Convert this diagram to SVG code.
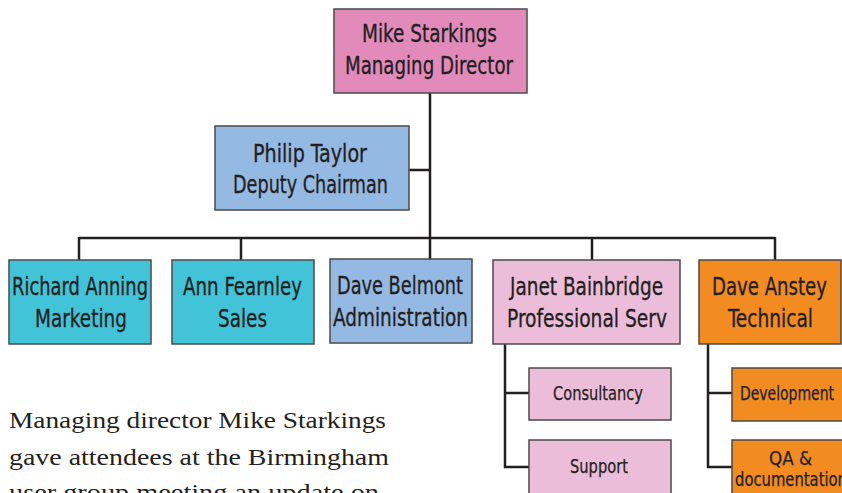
<svg xmlns="http://www.w3.org/2000/svg" width="842" height="493" viewBox="0 0 842 493">
<style>
.box{stroke:#4a4a4a;stroke-width:1.5}
.t{font-family:"DejaVu Sans Condensed","Liberation Sans",sans-serif;font-size:24px;fill:#231f20;stroke:#231f20;stroke-width:0.3}
.s{font-family:"DejaVu Sans Condensed","Liberation Sans",sans-serif;font-size:19px;fill:#231f20;stroke:#231f20;stroke-width:0.25}
.p{font-family:"Liberation Serif",serif;font-size:24px;fill:#231f20}
.c{fill:none;stroke:#231f20;stroke-width:2.5}
</style>
<rect width="842" height="493" fill="#ffffff"/>
<g id="connectors">
<path class="c" d="M430 93V238M409 170H430M79 238H775M79 237V260M241 237V260M430 237V259M592 237V260M775 237V260"/>
<path class="c" d="M505 344V467H529M505 393H529M708 344V467H732M708 393H732"/>
</g>
<g id="mike"><rect class="box" x="334" y="9" width="193" height="84" fill="#e28bbb"/>
<text class="t" x="362" y="42" textLength="135" lengthAdjust="spacingAndGlyphs">Mike Starkings</text>
<text class="t" x="345" y="74" textLength="168" lengthAdjust="spacingAndGlyphs">Managing Director</text></g>
<g id="philip"><rect class="box" x="215" y="126" width="194" height="84" fill="#94b9e3"/>
<text class="t" x="253" y="162" textLength="114" lengthAdjust="spacingAndGlyphs">Philip Taylor</text>
<text class="t" x="233" y="193" textLength="155" lengthAdjust="spacingAndGlyphs">Deputy Chairman</text></g>
<g id="richard"><rect class="box" x="9" y="260" width="142" height="84" fill="#42c4d8"/>
<text class="t" x="12" y="295" textLength="136" lengthAdjust="spacingAndGlyphs">Richard Anning</text>
<text class="t" x="35" y="327" textLength="92" lengthAdjust="spacingAndGlyphs">Marketing</text></g>
<g id="ann"><rect class="box" x="172" y="260" width="142" height="84" fill="#42c4d8"/>
<text class="t" x="183" y="295" textLength="119" lengthAdjust="spacingAndGlyphs">Ann Fearnley</text>
<text class="t" x="218" y="327" textLength="49" lengthAdjust="spacingAndGlyphs">Sales</text></g>
<g id="dave-belmont"><rect class="box" x="330" y="259" width="142" height="84" fill="#94b9e3"/>
<text class="t" x="337" y="294" textLength="126" lengthAdjust="spacingAndGlyphs">Dave Belmont</text>
<text class="t" x="333" y="326" textLength="135" lengthAdjust="spacingAndGlyphs">Administration</text></g>
<g id="janet"><rect class="box" x="493" y="260" width="187" height="84" fill="#ecbdd9"/>
<text class="t" x="510" y="295" textLength="153" lengthAdjust="spacingAndGlyphs">Janet Bainbridge</text>
<text class="t" x="507" y="327" textLength="160" lengthAdjust="spacingAndGlyphs">Professional Serv</text></g>
<g id="dave-anstey"><rect class="box" x="699" y="260" width="142" height="84" fill="#f28c20"/>
<text class="t" x="712" y="295" textLength="115" lengthAdjust="spacingAndGlyphs">Dave Anstey</text>
<text class="t" x="728" y="327" textLength="85" lengthAdjust="spacingAndGlyphs">Technical</text></g>
<g id="consultancy"><rect class="box" x="529" y="368" width="142" height="52" fill="#ecbdd9"/>
<text class="s" x="553" y="400" textLength="90" lengthAdjust="spacingAndGlyphs">Consultancy</text></g>
<g id="support"><rect class="box" x="529" y="440" width="142" height="60" fill="#ecbdd9"/>
<text class="s" x="570" y="473" textLength="58" lengthAdjust="spacingAndGlyphs">Support</text></g>
<g id="development"><rect class="box" x="732" y="368" width="120" height="53" fill="#f28c20"/>
<text class="s" x="740" y="400" textLength="94" lengthAdjust="spacingAndGlyphs">Development</text></g>
<g id="qa"><rect class="box" x="732" y="440" width="120" height="60" fill="#f28c20"/>
<text class="s" x="769" y="465" textLength="43" lengthAdjust="spacingAndGlyphs">QA &amp;</text>
<text class="s" x="735" y="486" textLength="112" lengthAdjust="spacingAndGlyphs">documentation</text></g>
<g id="caption">
<text class="p" x="9" y="428" textLength="377" lengthAdjust="spacingAndGlyphs">Managing director Mike Starkings</text>
<text class="p" x="9" y="465" textLength="380" lengthAdjust="spacingAndGlyphs">gave attendees at the Birmingham</text>
<text class="p" x="9" y="500" textLength="370" lengthAdjust="spacingAndGlyphs">user group meeting an update on</text>
</g>
</svg>
